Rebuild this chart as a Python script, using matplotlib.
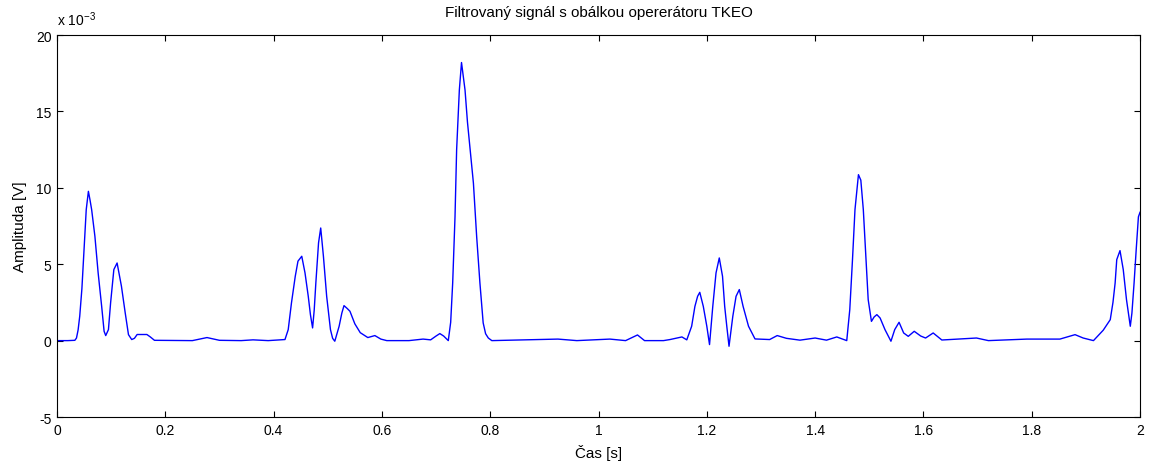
import matplotlib
matplotlib.use("Agg")
import matplotlib.pyplot as plt
from matplotlib.ticker import FuncFormatter

plt.rcParams['font.family'] = ['Liberation Sans', 'DejaVu Sans']

# time [s]
t = [0.000, 0.020, 0.033, 0.036, 0.039, 0.042, 0.046, 0.049, 0.054, 0.058, 0.061, 0.064,
     0.070, 0.076, 0.0825, 0.087, 0.090, 0.095, 0.099, 0.105, 0.111, 0.119, 0.126, 0.132,
     0.138, 0.143, 0.148, 0.166, 0.172, 0.180, 0.250, 0.277, 0.300, 0.340, 0.362, 0.390,
     0.421, 0.427, 0.433, 0.440, 0.445, 0.452, 0.458, 0.464, 0.468, 0.472, 0.475, 0.478,
     0.483, 0.487, 0.492, 0.498, 0.505, 0.509, 0.513, 0.521, 0.526, 0.530, 0.536, 0.541,
     0.550, 0.560, 0.574, 0.587, 0.598, 0.609, 0.650, 0.676, 0.690, 0.700, 0.707, 0.714,
     0.7226, 0.7270, 0.7307, 0.735, 0.738, 0.743, 0.747, 0.7535, 0.758, 0.763, 0.769,
     0.775, 0.781, 0.787, 0.7915, 0.7965, 0.803, 0.860, 0.925, 0.960, 1.021, 1.050, 1.072,
     1.085, 1.120, 1.132, 1.154, 1.163, 1.172, 1.178, 1.183, 1.187, 1.1935, 1.200, 1.205,
     1.211, 1.217, 1.223, 1.229, 1.233, 1.237, 1.241, 1.248, 1.254, 1.260, 1.267, 1.277,
     1.289, 1.316, 1.330, 1.347, 1.372, 1.400, 1.421, 1.440, 1.4584, 1.464, 1.469, 1.4736,
     1.480, 1.4844, 1.489, 1.494, 1.498, 1.504, 1.509, 1.514, 1.520, 1.529, 1.540, 1.547,
     1.555, 1.5635, 1.572, 1.583, 1.595, 1.604, 1.618, 1.634, 1.698, 1.720, 1.791, 1.852,
     1.880, 1.895, 1.914, 1.932, 1.945, 1.950, 1.954, 1.957, 1.963, 1.969, 1.975, 1.982,
     1.985, 1.989, 1.993, 1.997, 2.000]

# amplitude [x 1e-3 V]
amp = [0.00, 0.00, 0.02, 0.17, 0.70, 1.60, 3.40, 5.30, 8.57, 9.77, 9.20, 8.57,
       6.83, 4.43, 2.24, 0.61, 0.33, 0.72, 2.47, 4.65, 5.08, 3.56, 1.81, 0.39,
       0.07, 0.15, 0.40, 0.40, 0.25, 0.02, 0.00, 0.20, 0.02, 0.00, 0.05, 0.00,
       0.07, 0.72, 2.47, 4.21, 5.20, 5.52, 4.43, 2.90, 1.70, 0.83, 2.00, 3.77,
       6.40, 7.37, 5.52, 2.90, 0.72, 0.15, -0.04, 0.94, 1.80, 2.29, 2.10, 1.92,
       1.10, 0.52, 0.20, 0.33, 0.10, 0.00, 0.00, 0.10, 0.05, 0.30, 0.46, 0.30,
       0.00, 1.20, 3.77, 8.10, 12.50, 16.40, 18.20, 16.40, 14.30, 12.50, 10.30,
       6.80, 3.77, 1.16, 0.45, 0.17, 0.00, 0.05, 0.10, 0.00, 0.10, 0.00, 0.37,
       0.00, 0.00, 0.07, 0.24, 0.05, 0.94, 2.24, 2.90, 3.16, 2.24, 0.94, -0.26,
       2.24, 4.43, 5.41, 4.21, 2.24, 0.90, -0.37, 1.59, 2.90, 3.34, 2.24, 0.94,
       0.11, 0.07, 0.33, 0.15, 0.03, 0.17, 0.03, 0.24, 0.00, 2.03, 5.30, 8.57,
       10.86, 10.50, 8.57, 5.30, 2.68, 1.26, 1.55, 1.70, 1.48, 0.72, -0.04, 0.72,
       1.20, 0.50, 0.28, 0.61, 0.30, 0.17, 0.50, 0.04, 0.17, 0.00, 0.10, 0.10,
       0.39, 0.17, 0.00, 0.68, 1.37, 2.50, 3.77, 5.30, 5.89, 4.65, 2.68, 0.94,
       1.80, 3.77, 6.00, 8.10, 8.40]

xticks = [0, 0.2, 0.4, 0.6, 0.8, 1.0, 1.2, 1.4, 1.6, 1.8, 2.0]
yticks = [-5, 0, 5, 10, 15, 20]

fig = plt.figure(figsize=(11.49, 4.64), dpi=100)
ax = fig.add_axes([0.0496, 0.0991, 0.9426, 0.8233])
ax.plot(t, [a * 1e-3 for a in amp], color='#0000ff', linewidth=1.0)

ax.set_xlim(0, 2)
ax.set_ylim(-5e-3, 20e-3)
ax.set_xticks(xticks)
ax.set_yticks([v * 1e-3 for v in yticks])
ax.xaxis.set_major_formatter(FuncFormatter(lambda v, p: f"{v:g}"))
ax.yaxis.set_major_formatter(FuncFormatter(lambda v, p: f"{round(v * 1e3):d}"))
ax.tick_params(direction='in', length=4, width=0.8, top=True, right=True,
               labelsize=10, pad=4)
for s in ax.spines.values():
    s.set_linewidth(0.8)

ax.set_title("Filtrovaný signál s obálkou opererátoru TKEO", fontsize=11, pad=14)
ax.set_xlabel("Čas [s]", fontsize=11, labelpad=5)
ax.set_ylabel("Amplituda [V]", fontsize=11, labelpad=6)
ax.text(0.0, 1.018, r"x 10$^{\mathregular{-3}}$", transform=ax.transAxes,
        fontsize=10, ha='left', va='bottom')

fig.savefig("out.png", dpi=100)
